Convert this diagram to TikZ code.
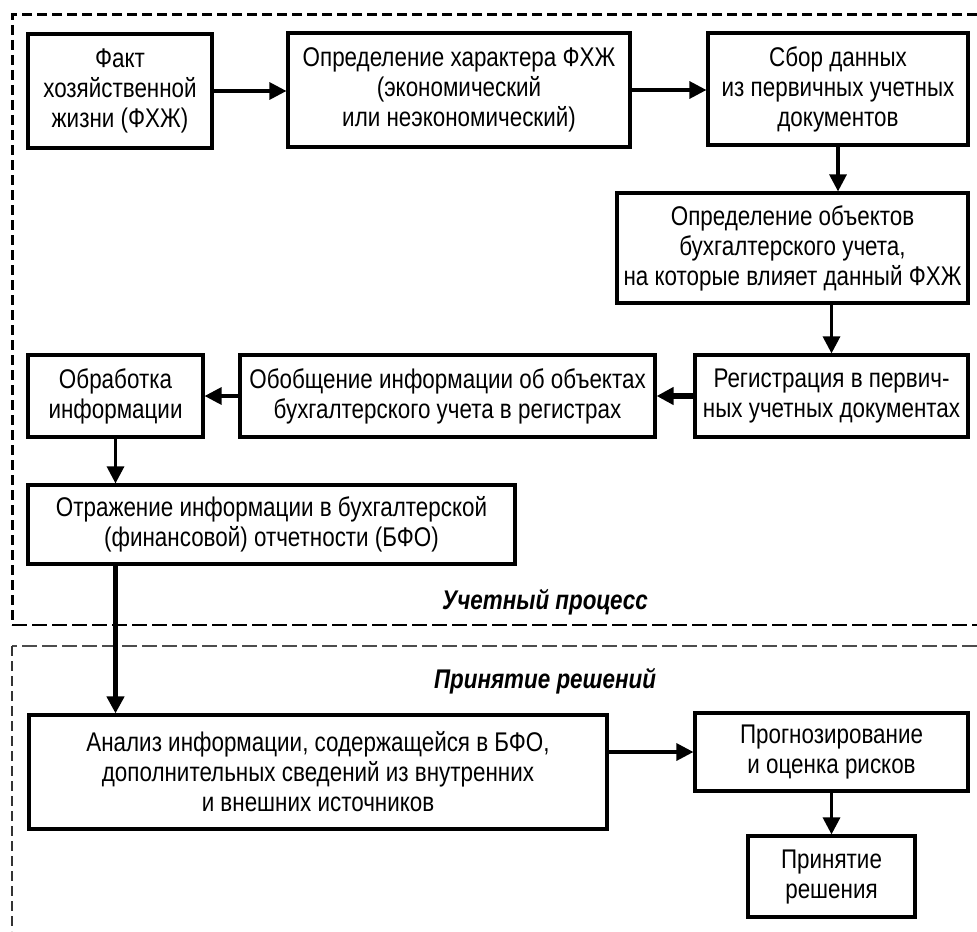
\documentclass[tikz,border=0pt]{standalone}
\usepackage{fontspec}
\setmainfont[FakeStretch=0.83]{Liberation Sans}
\usetikzlibrary{arrows.meta}

\begin{document}
\begin{tikzpicture}[x=0.5pt, y=-0.5pt,
    >={Triangle[length=8.5pt, width=8.5pt]},
    box/.style={draw, line width=1.6pt, align=center, inner sep=0pt,
        font=\fontsize{13.5}{15}\selectfont},
    link/.style={->, line width=1.6pt},
    boldlink/.style={->, line width=2.6pt},
    caption/.style={font=\fontsize{13.5}{15}\selectfont\bfseries\itshape}]

    \useasboundingbox (0,0) rectangle (977,931);

    % frames of the two stages
    \draw[line width=1.5pt, dash pattern=on 5pt off 2.5pt]
        (977,15) -- (12,15) -- (12,625);
    \draw[line width=0.6pt, dash pattern=on 7.5pt off 2.5pt]
        (12,625) -- (977,625);
    \draw[black!70, line width=1pt, dash pattern=on 7.5pt off 2.5pt]
        (977,646) -- (12,646);
    \draw[black!80, line width=0.6pt, dash pattern=on 5pt off 2.5pt]
        (12,646) -- (12,931);

    % accounting process
    \node[box, minimum width=92pt, minimum height=57pt]
        (Fact) at (120,91) {Факт\\хозяйственной\\жизни (ФХЖ)};
    \node[box, minimum width=171pt, minimum height=57pt]
        (Nature) at (459,90)
        {Определение характера ФХЖ\\(экономический\\или неэкономический)};
    \node[box, minimum width=130pt, minimum height=56pt]
        (Collect) at (838,89)
        {Сбор данных\\из первичных учетных\\документов};
    \node[box, minimum width=175.5pt, minimum height=55pt]
        (Objects) at (792.5,248)
        {Определение объектов\\бухгалтерского учета,\\на которые влияет данный ФХЖ};
    \node[box, minimum width=136.5pt, minimum height=41pt]
        (Register) at (831.5,396)
        {Регистрация в первич-\\ных учетных документах};
    \node[box, minimum width=207.5pt, minimum height=41pt]
        (Summary) at (447.5,396)
        {Обобщение информации об объектах\\бухгалтерского учета в регистрах};
    \node[box, minimum width=87.5pt, minimum height=41pt]
        (Process) at (115.5,396) {Обработка\\информации};
    \node[box, minimum width=243.5pt, minimum height=39.5pt]
        (Report) at (271.5,524.5)
        {Отражение информации в бухгалтерской\\(финансовой) отчетности (БФО)};
    \node[caption] (ProcTitle) at (545,602) {Учетный процесс};

    % decision making
    \node[caption] (DecTitle) at (545,681) {Принятие решений};
    \node[box, minimum width=289pt, minimum height=57pt]
        (Analysis) at (318,772)
        {Анализ информации, содержащейся в БФО,\\дополнительных сведений из внутренних\\и внешних источников};
    \node[box, minimum width=136.5pt, minimum height=39pt]
        (Forecast) at (831.5,752) {Прогнозирование\\и оценка рисков};
    \node[box, minimum width=83.5pt, minimum height=40.5pt]
        (Decision) at (831.5,876.5) {Принятие\\решения};

    \draw[link] (Fact.east) -- (Fact.east -| Nature.west);
    \draw[link] (Nature.east) -- (Nature.east -| Collect.west);
    \draw[link] (Collect.south) -- (Collect.south |- Objects.north);
    \draw[link] (Objects.south -| Register) -- (Register.north);
    \draw[boldlink] (Register.west) -- (Summary.east);
    \draw[link] (Summary.west) -- (Process.east);
    \draw[link] (Process.south) -- (Process.south |- Report.north);
    \draw[boldlink] (Process.south |- Report.south)
        -- (Process.south |- Analysis.north);
    \draw[link] (Analysis.east |- Forecast) -- (Forecast.west);
    \draw[link] (Forecast.south) -- (Decision.north);

\end{tikzpicture}
\end{document}
